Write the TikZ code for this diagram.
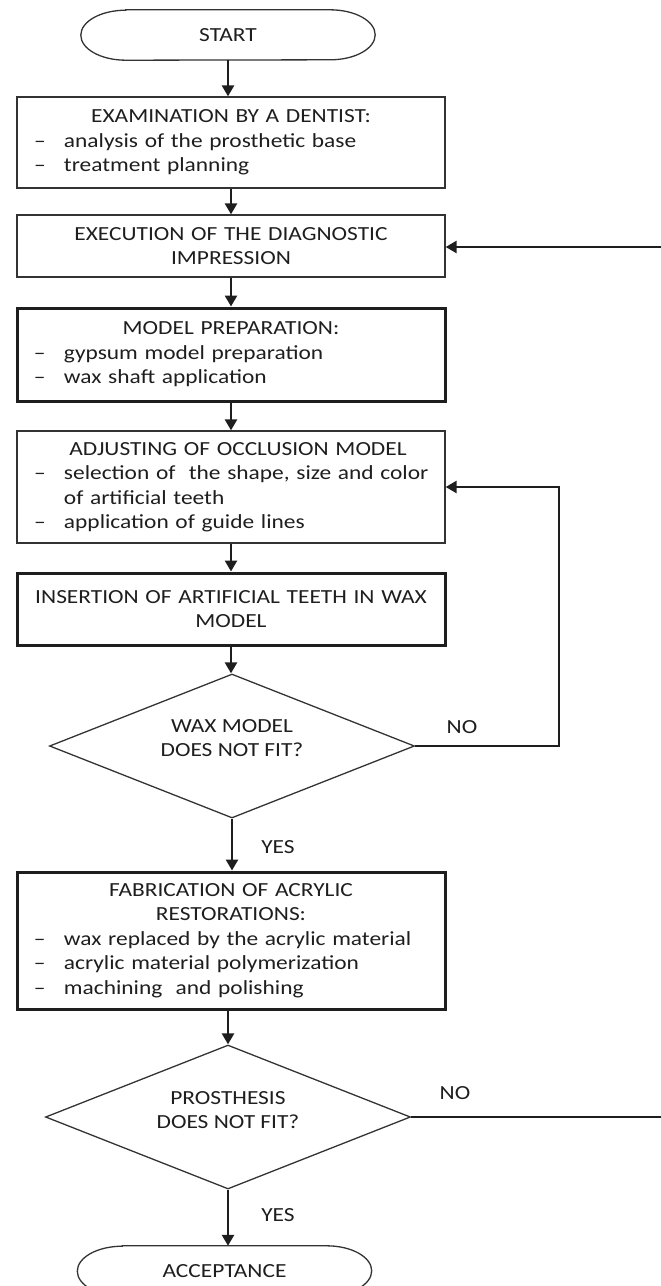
\documentclass[tikz,border=0pt]{standalone}
\usepackage{fontspec}
\setmainfont{Carlito}[FakeStretch=1.17]
\usetikzlibrary{shapes.geometric,arrows.meta}
\definecolor{lc}{HTML}{1E1E1E}
\definecolor{bc}{HTML}{333333}
\definecolor{tc}{HTML}{1E1E1E}
\newcommand{\fs}{\fontsize{20}{24.5}\selectfont}
\newcommand{\itm}[1]{\makebox[428pt][l]{\hspace*{17pt}\makebox[30pt][l]{–}#1}}
\newcommand{\cnt}[1]{\makebox[428pt][l]{\hspace*{47pt}#1}}
\begin{document}
\begin{tikzpicture}[x=1pt,y=-1pt,
  box/.style={draw=bc, line width=1.3pt, minimum width=428pt, text width=428pt,
    inner xsep=0pt, inner ysep=0pt, font=\fs, text=tc, align=center},
  thickbox/.style={box, draw=lc, line width=3pt},
  term/.style={minimum width=294pt, minimum height=50pt, inner sep=0pt, font=\fs, text=tc},
  termline/.style={draw=bc, line width=1.3pt},
  dia/.style={draw=bc, line width=1.3pt, diamond, minimum width=365pt, minimum height=144pt,
    inner sep=0pt},
  lbl/.style={font=\fs, text=tc, align=center, inner sep=0pt},
  arr/.style={draw=lc, line width=2.6pt, -{Triangle[length=11pt,width=12pt]}},
  ln/.style={draw=lc, line width=2.6pt}
]
\useasboundingbox (0,0) rectangle (661,1286);
\clip (0,0) rectangle (661,1286);

\node[term] (start) at (228,35) {START};
\draw[termline] ([xshift=45pt]start.north west) -- ([xshift=-45pt]start.north east)
  arc[start angle=90,end angle=-90,x radius=45pt,y radius=25pt]
  -- ([xshift=45pt]start.south west)
  arc[start angle=270,end angle=90,x radius=45pt,y radius=25pt] -- cycle;

\node[box, minimum height=91pt] (b1) at (231,142.5)
  {EXAMINATION BY A DENTIST:\\ \itm{analysis of the prosthetic base}\\ \itm{treatment planning}};
\node[box, minimum height=62pt] (b2) at (231,246)
  {EXECUTION OF THE DIAGNOSTIC\\ IMPRESSION};
\node[thickbox, minimum height=93pt] (b3) at (231,354.5)
  {MODEL PREPARATION:\\ \itm{gypsum model preparation}\\ \itm{wax shaft application}};
\node[box, minimum height=112pt] (b4) at (231,487)
  {\hspace*{14pt}ADJUSTING OF OCCLUSION MODEL\\ \itm{selection of~ the shape, size and color}\\ \cnt{of artificial teeth}\\ \itm{application of guide lines}};
\node[thickbox, minimum height=72pt] (b5) at (231,609)
  {INSERTION OF ARTIFICIAL TEETH IN WAX\\ MODEL};
\node[dia] (d1) at (232,746) {};
\node[lbl] (d1t) at ([yshift=8pt]d1.center) {WAX MODEL\\DOES NOT FIT?};
\node[thickbox, minimum height=137pt] (b6) at (231,940.5)
  {FABRICATION OF ACRYLIC\\ RESTORATIONS:\\ \itm{wax replaced by the acrylic material}\\ \itm{acrylic material polymerization}\\ \itm{machining~ and polishing}};
\node[dia] (d2) at (228,1117) {};
\node[lbl] (d2t) at ([yshift=7pt]d2.center) {PROSTHESIS\\DOES NOT FIT?};
\node[term] (acc) at (224.5,1271) {ACCEPTANCE};
\draw[termline] ([xshift=45pt]acc.north west) -- ([xshift=-45pt]acc.north east)
  arc[start angle=90,end angle=-90,x radius=45pt,y radius=25pt]
  -- ([xshift=45pt]acc.south west)
  arc[start angle=270,end angle=90,x radius=45pt,y radius=25pt] -- cycle;

\node[lbl] (no1) at (462,727) {NO};
\node[lbl] (yes1) at (278,847) {YES};
\node[lbl] (no2) at (455,1093) {NO};
\node[lbl] (yes2) at (278,1215) {YES};

\coordinate (r1) at (661,247);
\coordinate (r2) at (661,1117);

\draw[arr] (start.south) -- (start.south |- b1.north);
\draw[arr] (b1.south) -- (b2.north);
\draw[arr] (b2.south) -- (b3.north);
\draw[arr] (b3.south) -- (b4.north);
\draw[arr] (b4.south) -- (b5.north);
\draw[arr] (b5.south) -- (b5.south |- d1.north);
\draw[arr] (d1.south) -- (d1.south |- b6.north);
\draw[arr] (d2.north |- b6.south) -- (d2.north);
\draw[arr] (d2.south) -- (d2.south |- acc.north);
\draw[arr] (d1.east) -- ++(144,0) |- (b4.east);
\draw[arr] (r1) -- (b2.east |- r1);
\draw[ln] (d2.east) -- (r2);
\end{tikzpicture}
\end{document}
